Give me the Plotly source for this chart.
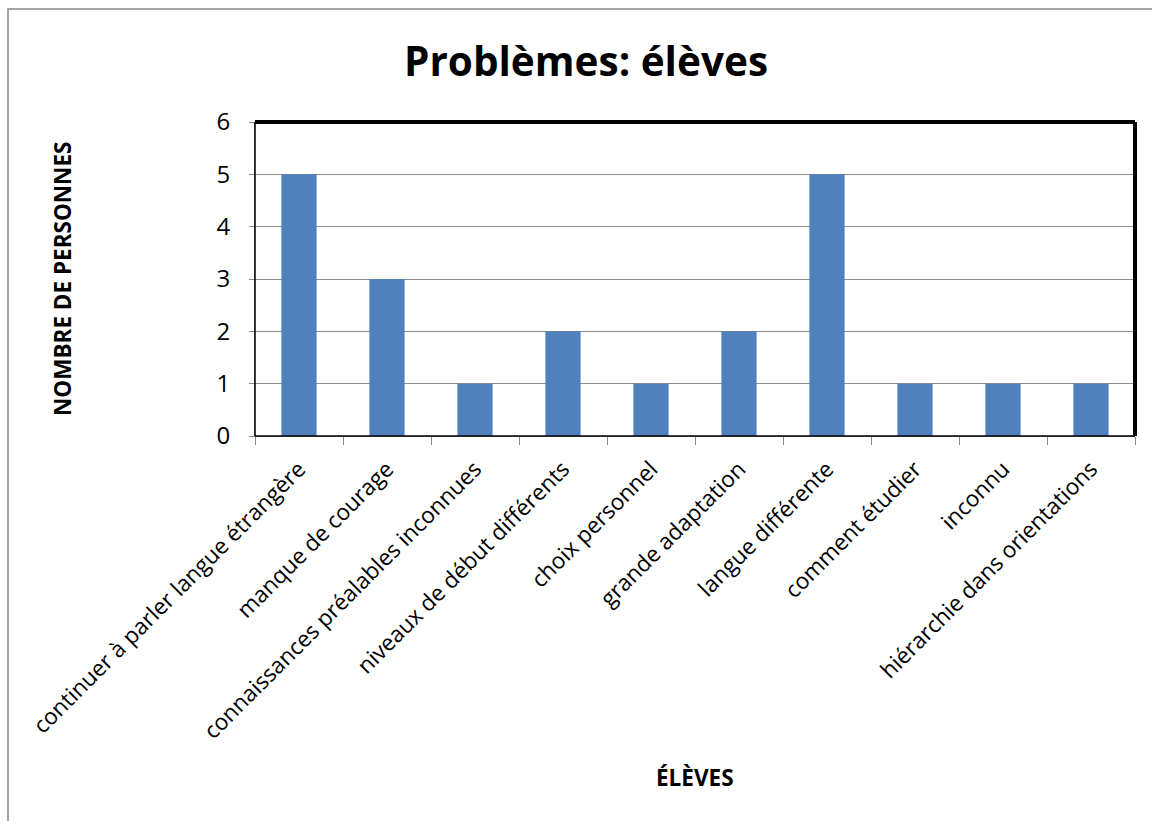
import plotly.graph_objects as go

categories = [
    "continuer à parler langue étrangère",
    "manque de courage",
    "connaissances préalables inconnues",
    "niveaux de début différents",
    "choix personnel",
    "grande adaptation",
    "langue différente",
    "comment étudier",
    "inconnu",
    "hiérarchie dans orientations",
]
counts = [5, 3, 1, 2, 1, 2, 5, 1, 1, 1]
y_ticks = [0, 1, 2, 3, 4, 5, 6]

W, H = 1152, 821
ML, MR, MT, MB = 255, 17, 122, 385
pw, ph = W - ML - MR, H - MT - MB

FONT = "Open Sans"

fig = go.Figure(
    go.Bar(
        x=categories,
        y=counts,
        marker=dict(color="#4F81BD", line=dict(width=0)),
        width=0.4,
    )
)

shapes = [
    # outer chart frame (extends past the page edges on the right and bottom)
    dict(type="rect", xref="paper", yref="paper",
         x0=(8 - ML) / pw, x1=1.5, y0=-1.5, y1=(H - MB - 9) / ph,
         line=dict(color="#878787", width=1.5), layer="below"),
    # plot-area frame
    dict(type="line", xref="paper", yref="paper", x0=0, x1=1, y0=1, y1=1,
         line=dict(color="black", width=4)),
    dict(type="line", xref="paper", yref="paper", x0=1, x1=1, y0=0, y1=1,
         line=dict(color="black", width=4)),
    dict(type="line", xref="paper", yref="paper", x0=0, x1=1, y0=0, y1=0,
         line=dict(color="black", width=1.5)),
    dict(type="line", xref="paper", yref="paper", x0=0, x1=0, y0=0, y1=1,
         line=dict(color="black", width=1.5)),
]

fig.update_layout(
    width=W, height=H,
    margin=dict(l=ML, r=MR, t=MT, b=MB, autoexpand=False),
    paper_bgcolor="white", plot_bgcolor="white",
    showlegend=False,
    font=dict(family=FONT, color="black"),
    bargap=0.6,
    title=dict(text="<b>Problèmes: élèves</b>", x=586 / W,
               xanchor="center", y=1 - 62 / H, yanchor="middle",
               font=dict(size=40.5, family=FONT)),
    shapes=shapes,
    annotations=[
        dict(text="<b>NOMBRE DE PERSONNES</b>", xref="paper", yref="paper",
             x=(62 - ML) / pw, y=(H - MB - 279) / ph, textangle=-90,
             showarrow=False, font=dict(size=22.5, family=FONT),
             xanchor="center", yanchor="middle"),
        dict(text="<b>ÉLÈVES</b>", xref="paper", yref="paper",
             x=0.5, y=(H - MB - 777) / ph, showarrow=False,
             font=dict(size=22.5, family=FONT),
             xanchor="center", yanchor="middle"),
    ],
)

fig.update_xaxes(
    showline=True, linecolor="#8a8a8a", linewidth=1,
    ticks="outside", ticklen=8, tickcolor="#8a8a8a",
    tickson="boundaries",
    tickangle=-45, tickfont=dict(size=22.5, family=FONT),
    ticklabelstandoff=10,
    showgrid=False, zeroline=False,
)
fig.update_yaxes(
    range=[0, 6], tickvals=y_ticks,
    showline=True, linecolor="#8a8a8a", linewidth=1,
    ticks="outside", ticklen=5, tickcolor="#8a8a8a",
    tickfont=dict(size=24, family=FONT),
    showgrid=True, gridcolor="#8c8c8c", gridwidth=1,
    zeroline=False, ticklabelstandoff=14,
)

fig.write_html("out.html")
